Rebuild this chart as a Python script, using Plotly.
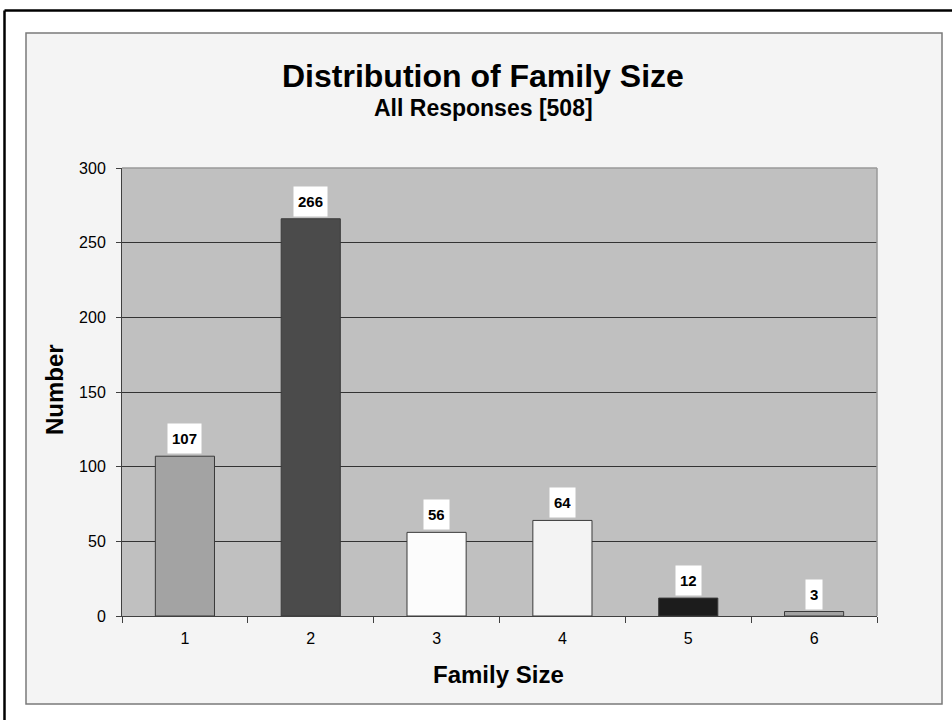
import plotly.graph_objects as go

categories = ["1", "2", "3", "4", "5", "6"]
counts = [107, 266, 56, 64, 12, 3]
bar_colors = ["#a3a3a3", "#4b4b4b", "#fcfcfc", "#f3f3f3", "#1c1c1c", "#a3a3a3"]
y_ticks = [0, 50, 100, 150, 200, 250, 300]

title_text = "Distribution of Family Size"
subtitle_text = "All Responses [508]"
x_title = "Family Size"
y_title = "Number"

W, H = 952, 720
L, R, T, B = 122, 877, 168, 616
pw, ph = R - L, B - T


def px(x):
    return (x - L) / pw


def py(y):
    return (B - y) / ph


FONT = "Liberation Sans, Arial, sans-serif"

fig = go.Figure()
fig.add_trace(go.Bar(
    x=categories, y=counts,
    marker=dict(color=bar_colors, line=dict(color="#3a3a3a", width=1)),
    hoverinfo="x+y",
))

annotations = []
for i, v in enumerate(counts):
    annotations.append(dict(
        x=i, y=v, xref="x", yref="y", text=str(v), showarrow=False,
        yanchor="bottom", yshift=2, bgcolor="white", borderpad=4, height=21,
        font=dict(family=FONT, size=15, color="black", weight="bold"),
    ))

annotations += [
    dict(x=px(483), y=py(76), xref="paper", yref="paper", text=title_text,
         showarrow=False, xanchor="center", yanchor="middle",
         font=dict(family=FONT, size=32, color="black", weight="bold")),
    dict(x=px(483), y=py(108), xref="paper", yref="paper", text=subtitle_text,
         showarrow=False, xanchor="center", yanchor="middle",
         font=dict(family=FONT, size=23, color="black", weight="bold")),
    dict(x=px(498), y=py(674), xref="paper", yref="paper", text=x_title,
         showarrow=False, xanchor="center", yanchor="middle",
         font=dict(family=FONT, size=24, color="black", weight="bold")),
    dict(x=px(54), y=py(390), xref="paper", yref="paper", text=y_title,
         showarrow=False, xanchor="center", yanchor="middle", textangle=-90,
         font=dict(family=FONT, size=24, color="black", weight="bold")),
]

shapes = [
    # outer black frame (top and left)
    dict(type="line", xref="paper", yref="paper", x0=px(4.5), x1=px(952), y0=py(10.5), y1=py(10.5),
         line=dict(color="black", width=2.5), layer="below"),
    dict(type="line", xref="paper", yref="paper", x0=px(4.5), x1=px(4.5), y0=py(10.5), y1=py(720),
         line=dict(color="black", width=2.5), layer="below"),
    # inner chart area box
    dict(type="rect", xref="paper", yref="paper", x0=px(26), x1=px(942), y0=py(704), y1=py(33),
         fillcolor="#f4f4f4", line=dict(color="#7a7a7a", width=1.5), layer="below"),
    # plot area background
    dict(type="rect", xref="paper", yref="paper", x0=0, x1=1, y0=0, y1=1,
         fillcolor="#c0c0c0", line=dict(width=0), layer="below"),
    # plot border top & right (gray)
    dict(type="line", xref="paper", yref="paper", x0=0, x1=1, y0=1, y1=1,
         line=dict(color="#9a9a9a", width=1.5), layer="above"),
    dict(type="line", xref="paper", yref="paper", x0=1, x1=1, y0=0, y1=1,
         line=dict(color="#9a9a9a", width=1.5), layer="above"),
]

fig.update_layout(
    width=W, height=H,
    margin=dict(l=L, r=W - R, t=T, b=H - B, pad=0),
    paper_bgcolor="white", plot_bgcolor="rgba(0,0,0,0)",
    bargap=0.53, showlegend=False,
    annotations=annotations, shapes=shapes,
    font=dict(family=FONT, color="black"),
)
fig.update_xaxes(
    type="category", tickson="boundaries", ticks="outside", ticklen=6,
    tickcolor="#404040", showline=True, linecolor="#404040", linewidth=1,
    showgrid=False, tickfont=dict(family=FONT, size=16, color="black"),
    ticklabelstandoff=8,
)
fig.update_yaxes(
    range=[0, 300], tickvals=y_ticks, ticks="outside", ticklen=5,
    tickcolor="#404040", showline=True, linecolor="#404040", linewidth=1,
    showgrid=True, gridcolor="#333333", gridwidth=1, zeroline=False,
    tickfont=dict(family=FONT, size=16, color="black"), ticklabelstandoff=7,
)

fig.write_html(
    "out.html",
    config={"displayModeBar": False},
    post_script="document.body.style.margin='0';document.body.style.overflow='hidden';",
)
